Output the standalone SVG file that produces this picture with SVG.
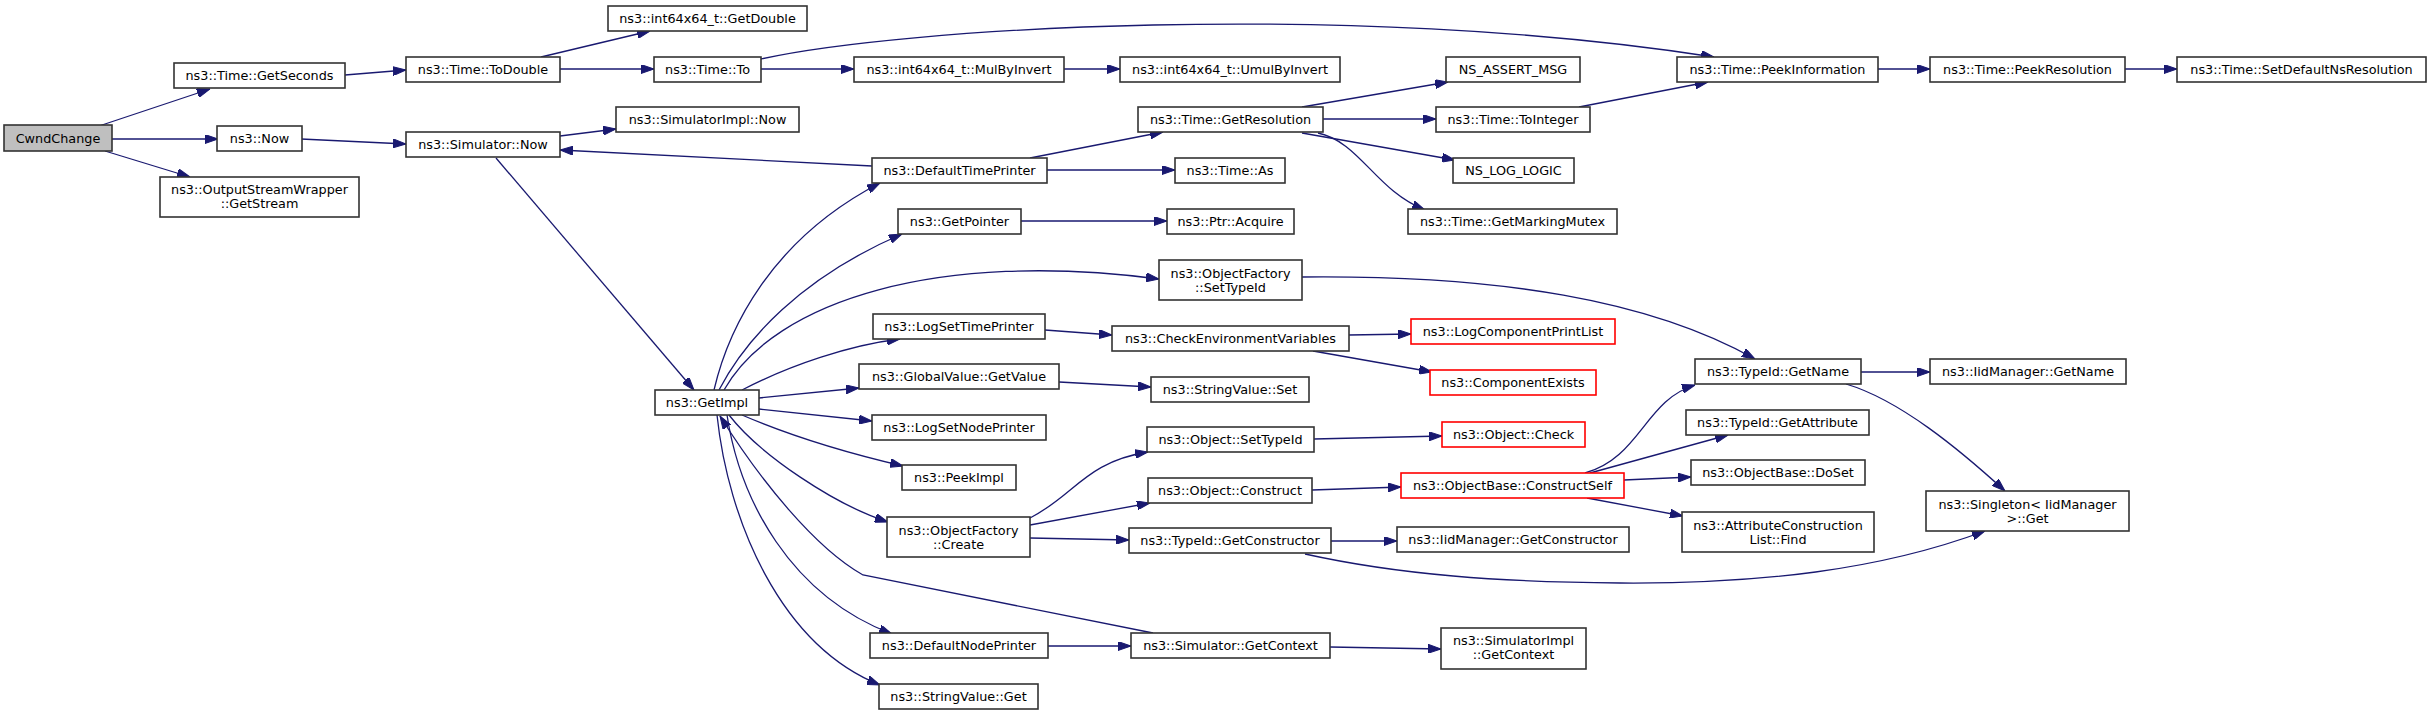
<svg xmlns="http://www.w3.org/2000/svg" width="2431" height="716" viewBox="0 0 2431 716">
<style>
.n rect{fill:#fff;stroke:#333;stroke-width:1.6}
.n.r rect{stroke:#ff0000}
.n.root rect{fill:#bfbfbf}
text{font-family:"DejaVu Sans","Liberation Sans",sans-serif;font-size:12.8px;text-anchor:middle;fill:#000}
.e path{fill:none;stroke:#191970;stroke-width:1.3;marker-end:url(#a)}
</style>
<defs>
<marker id="a" markerUnits="userSpaceOnUse" markerWidth="13" markerHeight="9" refX="13" refY="4.5" orient="auto"><path d="M0,0L13,4.5L0,9z" fill="#191970" stroke="#191970" stroke-width="1"/></marker>
</defs>
<rect width="2431" height="716" fill="#fff"/>
<g id="edges" class="e">
<path d="M99,126L210,89"/>
<path d="M111,139L218,139"/>
<path d="M105,151L190,177"/>
<path d="M345,75L406,70"/>
<path d="M301,139L406,144"/>
<path d="M541,57L650,31"/>
<path d="M560,69L654,69"/>
<path d="M761,69L854,69"/>
<path d="M761,59C900,28 1350,0 1714,57"/>
<path d="M1064,69L1120,69"/>
<path d="M560,136L616,129"/>
<path d="M496,158L694,390"/>
<path d="M872,166L560,150"/>
<path d="M1030,158L1163,132"/>
<path d="M1047,170L1175,170"/>
<path d="M1302,107L1448,82"/>
<path d="M1323,119L1436,119"/>
<path d="M1302,133L1455,160"/>
<path d="M1318,133C1360,142 1375,190 1425,210"/>
<path d="M1579,107L1708,82"/>
<path d="M1878,69L1930,69"/>
<path d="M2125,69L2177,69"/>
<path d="M1021,221L1167,221"/>
<path d="M714,390C728,330 770,240 880,183"/>
<path d="M719,390C745,340 800,278 902,234"/>
<path d="M724,390C775,300 940,250 1159,279"/>
<path d="M742,390C790,365 850,345 900,339"/>
<path d="M759,398L859,388"/>
<path d="M759,409L872,421"/>
<path d="M742,415C800,440 860,456 903,466"/>
<path d="M729,415C760,455 835,505 888,522"/>
<path d="M727,415C740,500 790,595 892,634"/>
<path d="M717,415C728,520 780,645 880,685"/>
<path d="M1153,633L863,575C815,548 760,480 720,416"/>
<path d="M1302,277C1500,275 1650,300 1755,359"/>
<path d="M1045,330L1112,335"/>
<path d="M1349,335L1411,334"/>
<path d="M1313,351L1432,372"/>
<path d="M1059,382L1151,387"/>
<path d="M1030,518C1075,495 1085,462 1148,452"/>
<path d="M1030,525L1150,503"/>
<path d="M1030,538L1129,540"/>
<path d="M1314,439L1442,436"/>
<path d="M1312,490L1401,487"/>
<path d="M1585,473C1640,458 1645,400 1695,385"/>
<path d="M1590,473L1728,435"/>
<path d="M1624,480L1691,477"/>
<path d="M1587,498L1683,516"/>
<path d="M1861,372L1930,372"/>
<path d="M1846,384C1900,400 1960,450 2005,491"/>
<path d="M1331,541L1397,541"/>
<path d="M1305,554C1400,575 1500,582 1620,583C1760,584 1880,570 1985,531"/>
<path d="M1048,646L1131,646"/>
<path d="M1330,647L1441,649"/>
</g>
<g id="n1" class="n root"><rect x="4" y="125" width="108" height="26"/><text x="58" y="142.5">CwndChange</text></g>
<g id="n2" class="n"><rect x="174" y="63" width="171" height="25"/><text x="259.5" y="80">ns3::Time::GetSeconds</text></g>
<g id="n3" class="n"><rect x="217" y="126" width="85" height="25"/><text x="259.5" y="143">ns3::Now</text></g>
<g id="n4" class="n"><rect x="160" y="177" width="199" height="40"/><text x="259.5" y="193.5">ns3::OutputStreamWrapper</text><text x="259.5" y="207.5">::GetStream</text></g>
<g id="n5" class="n"><rect x="406" y="57" width="154" height="25"/><text x="483" y="74">ns3::Time::ToDouble</text></g>
<g id="n6" class="n"><rect x="608" y="6" width="199" height="25"/><text x="707.5" y="23">ns3::int64x64_t::GetDouble</text></g>
<g id="n7" class="n"><rect x="654" y="57" width="107" height="25"/><text x="707.5" y="74">ns3::Time::To</text></g>
<g id="n8" class="n"><rect x="616" y="107" width="183" height="25"/><text x="707.5" y="124">ns3::SimulatorImpl::Now</text></g>
<g id="n9" class="n"><rect x="406" y="132" width="154" height="25"/><text x="483" y="149">ns3::Simulator::Now</text></g>
<g id="n10" class="n"><rect x="655" y="390" width="104" height="25"/><text x="707" y="407">ns3::GetImpl</text></g>
<g id="n11" class="n"><rect x="854" y="57" width="210" height="25"/><text x="959" y="74">ns3::int64x64_t::MulByInvert</text></g>
<g id="n12" class="n"><rect x="1120" y="57" width="220" height="25"/><text x="1230" y="74">ns3::int64x64_t::UmulByInvert</text></g>
<g id="n13" class="n"><rect x="1138" y="107" width="185" height="25"/><text x="1230.5" y="124">ns3::Time::GetResolution</text></g>
<g id="n14" class="n"><rect x="872" y="158" width="175" height="25"/><text x="959.5" y="175">ns3::DefaultTimePrinter</text></g>
<g id="n15" class="n"><rect x="1175" y="158" width="110" height="25"/><text x="1230" y="175">ns3::Time::As</text></g>
<g id="n16" class="n"><rect x="898" y="209" width="123" height="25"/><text x="959.5" y="226">ns3::GetPointer</text></g>
<g id="n17" class="n"><rect x="1167" y="209" width="127" height="25"/><text x="1230.5" y="226">ns3::Ptr::Acquire</text></g>
<g id="n18" class="n"><rect x="1446" y="57" width="134" height="25"/><text x="1513" y="74">NS_ASSERT_MSG</text></g>
<g id="n19" class="n"><rect x="1436" y="107" width="154" height="25"/><text x="1513" y="124">ns3::Time::ToInteger</text></g>
<g id="n20" class="n"><rect x="1453" y="158" width="121" height="25"/><text x="1513.5" y="175">NS_LOG_LOGIC</text></g>
<g id="n21" class="n"><rect x="1408" y="209" width="209" height="25"/><text x="1512.5" y="226">ns3::Time::GetMarkingMutex</text></g>
<g id="n22" class="n"><rect x="1677" y="57" width="201" height="25"/><text x="1777.5" y="74">ns3::Time::PeekInformation</text></g>
<g id="n23" class="n"><rect x="1930" y="57" width="195" height="25"/><text x="2027.5" y="74">ns3::Time::PeekResolution</text></g>
<g id="n24" class="n"><rect x="2177" y="57" width="249" height="25"/><text x="2301.5" y="74">ns3::Time::SetDefaultNsResolution</text></g>
<g id="n25" class="n"><rect x="1159" y="260" width="143" height="40"/><text x="1230.5" y="277.5">ns3::ObjectFactory</text><text x="1230.5" y="291.5">::SetTypeId</text></g>
<g id="n26" class="n"><rect x="873" y="314" width="172" height="25"/><text x="959" y="331">ns3::LogSetTimePrinter</text></g>
<g id="n27" class="n"><rect x="1112" y="326" width="237" height="25"/><text x="1230.5" y="343">ns3::CheckEnvironmentVariables</text></g>
<g id="n28" class="n r"><rect x="1411" y="319" width="204" height="25"/><text x="1513" y="336">ns3::LogComponentPrintList</text></g>
<g id="n29" class="n r"><rect x="1430" y="370" width="166" height="25"/><text x="1513" y="387">ns3::ComponentExists</text></g>
<g id="n30" class="n"><rect x="859" y="364" width="200" height="25"/><text x="959" y="381">ns3::GlobalValue::GetValue</text></g>
<g id="n31" class="n"><rect x="1151" y="377" width="158" height="25"/><text x="1230" y="394">ns3::StringValue::Set</text></g>
<g id="n32" class="n"><rect x="872" y="415" width="174" height="25"/><text x="959" y="432">ns3::LogSetNodePrinter</text></g>
<g id="n33" class="n"><rect x="1147" y="427" width="167" height="25"/><text x="1230.5" y="444">ns3::Object::SetTypeId</text></g>
<g id="n34" class="n r"><rect x="1442" y="422" width="143" height="25"/><text x="1513.5" y="439">ns3::Object::Check</text></g>
<g id="n35" class="n"><rect x="1695" y="359" width="166" height="25"/><text x="1778" y="376">ns3::TypeId::GetName</text></g>
<g id="n36" class="n"><rect x="1930" y="359" width="196" height="25"/><text x="2028" y="376">ns3::IidManager::GetName</text></g>
<g id="n37" class="n"><rect x="1686" y="410" width="183" height="25"/><text x="1777.5" y="427">ns3::TypeId::GetAttribute</text></g>
<g id="n38" class="n"><rect x="902" y="465" width="114" height="25"/><text x="959" y="482">ns3::PeekImpl</text></g>
<g id="n39" class="n"><rect x="887" y="517" width="143" height="40"/><text x="958.5" y="534.5">ns3::ObjectFactory</text><text x="958.5" y="548.5">::Create</text></g>
<g id="n40" class="n"><rect x="1148" y="478" width="164" height="25"/><text x="1230" y="495">ns3::Object::Construct</text></g>
<g id="n41" class="n r"><rect x="1401" y="473" width="223" height="25"/><text x="1512.5" y="490">ns3::ObjectBase::ConstructSelf</text></g>
<g id="n42" class="n"><rect x="1691" y="460" width="174" height="25"/><text x="1778" y="477">ns3::ObjectBase::DoSet</text></g>
<g id="n43" class="n"><rect x="1682" y="512" width="192" height="40"/><text x="1778" y="529.5">ns3::AttributeConstruction</text><text x="1778" y="543.5">List::Find</text></g>
<g id="n44" class="n"><rect x="1926" y="491" width="203" height="40"/><text x="2027.5" y="508.5">ns3::Singleton&lt; IidManager</text><text x="2027.5" y="522.5">&gt;::Get</text></g>
<g id="n45" class="n"><rect x="1129" y="528" width="202" height="25"/><text x="1230" y="545">ns3::TypeId::GetConstructor</text></g>
<g id="n46" class="n"><rect x="1397" y="527" width="232" height="25"/><text x="1513" y="544">ns3::IidManager::GetConstructor</text></g>
<g id="n47" class="n"><rect x="870" y="633" width="178" height="25"/><text x="959" y="650">ns3::DefaultNodePrinter</text></g>
<g id="n48" class="n"><rect x="1131" y="633" width="199" height="25"/><text x="1230.5" y="650">ns3::Simulator::GetContext</text></g>
<g id="n49" class="n"><rect x="1441" y="628" width="145" height="41"/><text x="1513.5" y="645">ns3::SimulatorImpl</text><text x="1513.5" y="659">::GetContext</text></g>
<g id="n50" class="n"><rect x="879" y="684" width="159" height="25"/><text x="958.5" y="701">ns3::StringValue::Get</text></g>
</svg>
